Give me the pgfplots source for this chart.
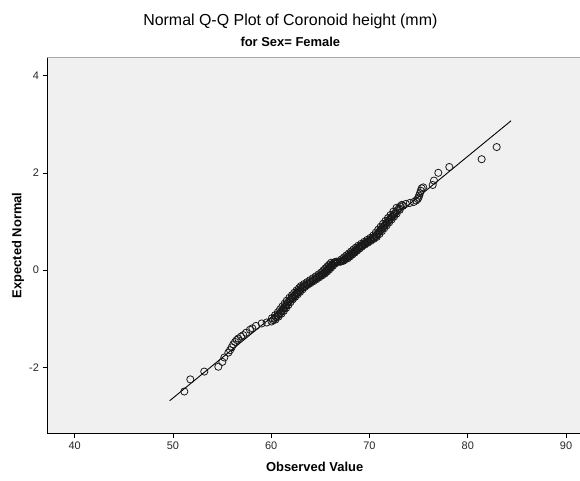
\documentclass[border=0pt]{standalone}
\usepackage{pgfplots}
\pgfplotsset{compat=1.18}
\usepackage{fontspec}
\setmainfont{Liberation Sans}
\definecolor{bg}{HTML}{F0F0F0}
\begin{document}
\begin{tikzpicture}
\begin{axis}[
  scale only axis,
  width=534.3bp, height=376bp,
  xmin=37.24, xmax=91.6, ymin=-3.36, ymax=4.377,
  axis background/.style={fill=bg},
  axis lines=left,
  axis line style={-, black, line width=1.1pt},
  xtick={40,50,60,70,80,90}, ytick={-2,0,2,4},
  tick align=outside, major tick length=5bp,
  tick style={black, line width=0.6pt},
  ticklabel style={font=\fontsize{11}{13}\selectfont, text=black!85},
  /pgf/number format/assume math mode=true,
  xlabel={Observed Value}, ylabel={Expected Normal},
  label style={font=\bfseries\fontsize{13}{15}\selectfont},
  xlabel style={at={(axis description cs:0.5,0)}, anchor=base, yshift=-38bp},
  ylabel style={at={(axis description cs:-0.0487,0.5)}, anchor=base},
  clip=false,
]
\coordinate (O) at (rel axis cs:0,0);
\draw[gray!70, line width=0.8pt] (rel axis cs:0,1) -- (rel axis cs:1,1);
\addplot[black, line width=0.9pt] coordinates {(49.67,-2.69) (84.40,3.07)};
\addplot[only marks, mark=o, mark size=3.6bp, mark options={draw=black!90, line width=0.8pt}] table {
x y
51.16 -2.50
51.77 -2.25
53.19 -2.09
54.62 -1.99
55.03 -1.89
55.23 -1.80
55.64 -1.70
55.81 -1.65
55.98 -1.59
56.14 -1.53
56.32 -1.48
56.49 -1.44
56.65 -1.41
56.93 -1.37
57.16 -1.34
57.44 -1.29
57.84 -1.23
58.08 -1.20
58.45 -1.15
59.03 -1.10
59.54 -1.08
60.03 -1.06
60.18 -1.03
60.33 -1.00
60.49 -0.97
60.64 -0.94
60.79 -0.91
60.93 -0.88
61.04 -0.85
61.15 -0.82
61.27 -0.79
61.38 -0.76
61.50 -0.73
61.61 -0.70
61.72 -0.67
61.83 -0.64
61.96 -0.61
62.10 -0.58
62.20 -0.56
62.35 -0.53
62.44 -0.51
62.59 -0.48
62.69 -0.46
62.83 -0.43
62.93 -0.41
63.08 -0.38
63.17 -0.36
63.27 -0.34
63.43 -0.32
63.58 -0.30
63.74 -0.28
63.89 -0.26
64.05 -0.24
64.20 -0.22
64.35 -0.20
64.50 -0.18
64.64 -0.16
64.79 -0.14
64.94 -0.12
65.08 -0.10
65.23 -0.08
65.35 -0.06
65.45 -0.04
65.55 -0.02
65.65 0.00
65.74 0.02
65.84 0.04
65.94 0.06
66.04 0.08
66.14 0.10
66.24 0.12
66.34 0.14
66.44 0.16
66.60 0.17
66.80 0.17
67.00 0.17
67.17 0.18
67.29 0.19
67.41 0.21
67.53 0.23
67.66 0.25
67.78 0.27
67.90 0.29
68.02 0.31
68.14 0.33
68.26 0.35
68.38 0.37
68.50 0.39
68.61 0.41
68.73 0.43
68.85 0.45
68.97 0.47
69.11 0.49
69.26 0.51
69.41 0.53
69.57 0.55
69.72 0.57
69.87 0.59
70.02 0.61
70.18 0.63
70.33 0.65
70.48 0.67
70.64 0.70
70.76 0.73
70.89 0.76
71.01 0.79
71.13 0.82
71.25 0.85
71.38 0.88
71.50 0.91
71.62 0.94
71.75 0.97
71.87 1.00
72.00 1.03
72.13 1.06
72.25 1.09
72.38 1.12
72.51 1.15
72.67 1.19
72.83 1.23
73.00 1.27
73.16 1.31
73.28 1.34
73.70 1.36
74.10 1.38
74.50 1.40
74.75 1.43
74.90 1.46
74.98 1.49
75.05 1.53
75.14 1.58
75.22 1.63
75.31 1.68
75.47 1.70
76.43 1.75
76.56 1.84
77.00 2.00
78.12 2.12
81.41 2.28
82.94 2.53
60.43 -1.02
60.08 -0.99
60.74 -0.96
60.39 -0.93
61.04 -0.90
60.68 -0.87
61.29 -0.84
60.90 -0.81
61.52 -0.78
61.13 -0.75
61.75 -0.72
61.36 -0.69
61.97 -0.66
61.58 -0.63
62.21 -0.60
61.85 -0.57
62.45 -0.55
62.10 -0.52
62.69 -0.50
62.34 -0.47
62.94 -0.45
62.58 -0.42
63.18 -0.40
62.83 -0.37
63.42 -0.35
63.02 -0.33
63.68 -0.31
63.33 -0.29
63.99 -0.27
63.64 -0.25
64.30 -0.23
63.95 -0.21
64.60 -0.19
64.25 -0.17
64.89 -0.15
64.54 -0.13
65.19 -0.11
64.83 -0.09
65.48 -0.07
65.10 -0.05
65.70 -0.03
65.30 -0.01
65.90 0.01
65.49 0.03
66.09 0.05
65.69 0.07
66.29 0.09
65.89 0.11
66.49 0.13
66.09 0.15
66.69 0.17
67.04 0.18
67.42 0.20
67.16 0.22
67.78 0.24
67.41 0.26
68.03 0.28
67.65 0.30
68.27 0.32
67.89 0.34
68.51 0.36
68.13 0.38
68.75 0.40
68.36 0.42
68.98 0.44
68.60 0.46
69.22 0.48
68.86 0.50
69.51 0.52
69.16 0.54
69.82 0.56
69.47 0.58
70.12 0.60
69.77 0.62
70.43 0.64
70.08 0.66
70.73 0.68
70.39 0.71
71.01 0.74
70.64 0.77
71.26 0.80
70.88 0.83
71.50 0.86
71.13 0.89
71.75 0.92
71.37 0.95
72.00 0.98
71.62 1.01
72.25 1.04
71.88 1.07
72.50 1.10
72.13 1.13
72.76 1.16
72.42 1.20
73.08 1.24
72.75 1.28
73.41 1.32
};
\end{axis}
\node[anchor=base, font=\fontsize{16}{18}\selectfont] at ([shift={(242.85bp,407.6bp)}]O) {Normal Q-Q Plot of Coronoid height (mm)};
\node[anchor=base, font=\bfseries\fontsize{13}{15}\selectfont] at ([shift={(242.85bp,386.3bp)}]O) {for Sex= Female};
\pgfresetboundingbox
\useasboundingbox (O) ++(-47.5bp,-47.7bp) rectangle ++(580bp,481bp);
\end{tikzpicture}
\end{document}
